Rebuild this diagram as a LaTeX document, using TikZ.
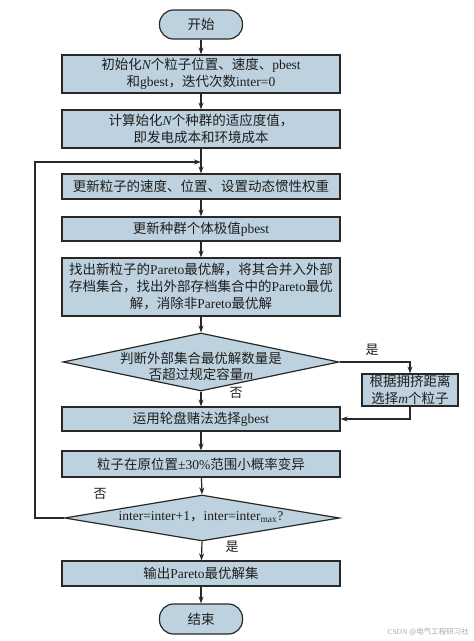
\documentclass[tikz,border=0pt]{standalone}
\usepackage{fontspec}
\setmainfont{Liberation Serif}
\newfontfamily\cjk{Noto Sans CJK SC}
\newfontfamily\enfont{Liberation Serif}
\newcommand\en[1]{{\enfont #1}}
\usetikzlibrary{shapes.geometric,arrows.meta,calc}
\definecolor{boxc}{RGB}{189,210,222}
\definecolor{linec}{RGB}{40,40,40}
\definecolor{txtc}{RGB}{30,30,30}
\definecolor{wmc}{RGB}{170,170,170}
\tikzset{
  box/.style={draw=linec, fill=boxc, line width=1.2pt, minimum width=278pt, inner sep=0pt,
    align=center, font=\cjk\fontsize{13.5}{17}\selectfont, text=txtc},
  term/.style={box, rounded corners=14pt, minimum width=83pt},
  dia/.style={draw=linec, fill=boxc, line width=1.2pt, diamond, inner sep=0pt},
  diatext/.style={align=center, font=\cjk\fontsize{13.5}{16}\selectfont, text=txtc, inner sep=0pt},
  arr/.style={line width=1.2pt, draw=linec, -{Stealth[length=7pt,width=5pt]}},
  lbl/.style={font=\cjk\fontsize{13}{15}\selectfont, text=txtc, inner sep=0pt}
}
\begin{document}
\begin{tikzpicture}[x=1pt,y=-1pt]
\fill[white] (0,0) rectangle (474,641);
\useasboundingbox (0,0) rectangle (474,641);

\node[term, minimum height=29pt] (start) at (201,24.5) {开始};
\node[box, minimum height=38pt] (b1) at (201,74) {初始化\en{\itshape N}个粒子位置、速度、\en{pbest}\\和\en{gbest}，迭代次数\en{inter=0}};
\node[box, minimum height=38pt] (b2) at (201,129) {计算始化\en{\itshape N}个种群的适应度值，\\即发电成本和环境成本};
\node[box, minimum height=25pt] (b3) at (201,186.5) {更新粒子的速度、位置、设置动态惯性权重};
\node[box, minimum height=24pt] (b4) at (201,229) {更新种群个体极值\en{pbest}};
\node[box, minimum height=58pt] (b5) at (201,287) {找出新粒子的\en{Pareto}最优解，将其合并入外部\\存档集合，找出外部存档集合中的\en{Pareto}最优\\解，消除非\en{Pareto}最优解};
\node[dia, minimum width=276pt, minimum height=58pt] (d1) at (201,362) {};
\node[diatext] (d1t) at (201,366) {判断外部集合最优解数量是\\否超过规定容量\en{\itshape m}};
\node[box, minimum width=96pt, minimum height=32pt] (side) at (410,390) {根据拥挤距离\\选择\en{\itshape m}个粒子};
\node[box, minimum height=24pt] (b6) at (201,419) {运用轮盘赌法选择\en{gbest}};
\node[box, minimum height=26pt] (b7) at (201,464) {粒子在原位置\en{±30\%}范围小概率变异};
\node[dia, minimum width=275pt, minimum height=46pt] (d2) at (202,518) {};
\node[diatext] (d2t) at (201,517) {\en{inter=inter+1}，\en{inter=inter\textsubscript{max}?}};
\node[box, minimum height=25pt] (b8) at (201,573.5) {输出\en{Pareto}最优解集};
\node[term, minimum height=30pt] (end) at (201,619) {结束};

\coordinate (lp) at (201,162);

\draw[arr] (start) -- (b1);
\draw[arr] (b1) -- (b2);
\draw[arr] (b2) -- (b3);
\draw[arr] (b3) -- (b4);
\draw[arr] (b4) -- (b5);
\draw[arr] (b5) -- (d1);
\draw[arr] (d1.south) -- (b6.north);
\draw[arr] (d1.east) -| (side.north);
\draw[arr] (side.south) |- (b6.east);
\draw[arr] (b6) -- (b7);
\draw[arr] (b7) -- (d2.north);
\draw[arr] (d2.south) -- (b8);
\draw[arr] (b8) -- (end);
\draw[arr] (d2.west) -- ++(-29,0) |- (lp);

\node[lbl] (l1) at (372,350) {是};
\node[lbl] (l2) at (236,393) {否};
\node[lbl] (l3) at (100,494) {否};
\node[lbl] (l4) at (232,547) {是};

\node[anchor=east, text=wmc, font=\cjk\fontsize{7.5}{9}\selectfont, inner sep=0pt] (wm) at (469,632) {\en{CSDN} @电气工程研习社};
\end{tikzpicture}
\end{document}
